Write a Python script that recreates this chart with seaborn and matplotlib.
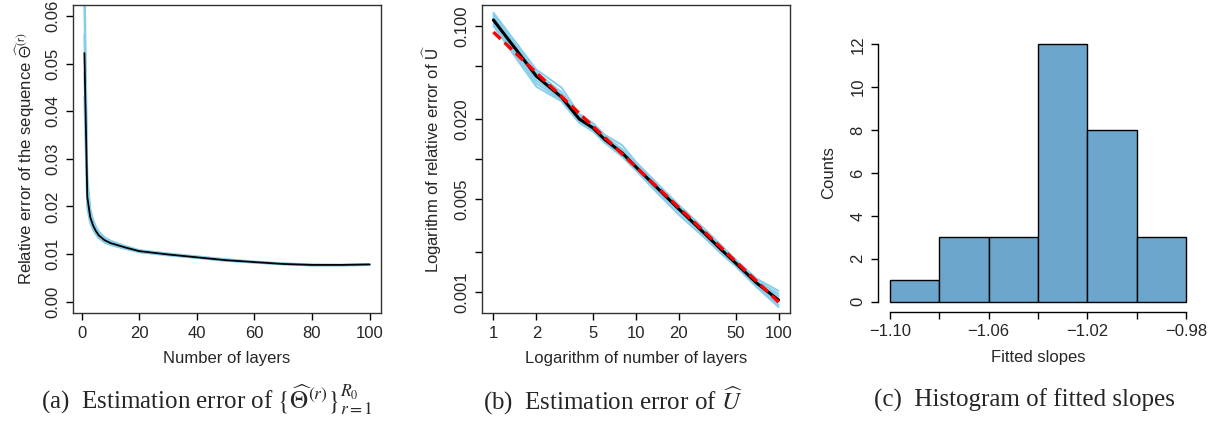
import numpy as np
import pandas as pd
import seaborn as sns
import matplotlib
matplotlib.use("Agg")
import matplotlib.pyplot as plt

# ---- panel (a): relative error of Theta-hat sequence vs number of layers
layers_a = [1, 2, 3, 4, 5, 6, 8, 10, 15, 20, 30, 40, 50, 60, 70, 80, 90, 100]
theta_mean = [0.0522, 0.0220, 0.0178, 0.0160, 0.0148, 0.0139, 0.0129, 0.0123, 0.0114, 0.0106,
              0.0099, 0.0093, 0.0087, 0.0083, 0.0079, 0.0077, 0.0077, 0.0078]
theta_runs = [
    [0.0700, 0.0262, 0.0196, 0.0172, 0.0157, 0.0147, 0.0135, 0.0128, 0.0117, 0.0108,
     0.0101, 0.0095, 0.0089, 0.0084, 0.0080, 0.0078, 0.0077, 0.0078],
    [0.0620, 0.0245, 0.0188, 0.0167, 0.0154, 0.0144, 0.0133, 0.0126, 0.0116, 0.0107,
     0.0100, 0.0094, 0.0088, 0.0083, 0.0080, 0.0077, 0.0077, 0.0078],
    [0.0560, 0.0230, 0.0182, 0.0163, 0.0151, 0.0141, 0.0131, 0.0124, 0.0115, 0.0106,
     0.0099, 0.0093, 0.0087, 0.0083, 0.0079, 0.0077, 0.0077, 0.0078],
    [0.0480, 0.0208, 0.0172, 0.0155, 0.0144, 0.0135, 0.0126, 0.0120, 0.0112, 0.0104,
     0.0098, 0.0092, 0.0086, 0.0082, 0.0079, 0.0076, 0.0076, 0.0077],
    [0.0430, 0.0196, 0.0166, 0.0151, 0.0141, 0.0133, 0.0124, 0.0119, 0.0111, 0.0104,
     0.0097, 0.0092, 0.0086, 0.0082, 0.0078, 0.0076, 0.0076, 0.0077],
]

# ---- panel (b): log relative error of U-hat vs log number of layers
layers_b = [1, 2, 3, 4, 5, 6, 8, 10, 14, 20, 30, 40, 50, 70, 100]
u_mean = [0.111, 0.042, 0.0292, 0.0200, 0.0171, 0.0141, 0.0111, 0.0087, 0.0061, 0.0042,
          0.00278, 0.00206, 0.00165, 0.00117, 0.00087]
u_runs = [
    [0.126, 0.047, 0.0345, 0.0218, 0.0186, 0.0153, 0.0127, 0.0095, 0.0066, 0.0045,
     0.00300, 0.00222, 0.00175, 0.00126, 0.00102],
    [0.121, 0.045, 0.0318, 0.0212, 0.0180, 0.0149, 0.0119, 0.0092, 0.0064, 0.0044,
     0.00292, 0.00216, 0.00171, 0.00122, 0.00097],
    [0.117, 0.044, 0.0305, 0.0208, 0.0176, 0.0146, 0.0115, 0.0090, 0.0063, 0.0043,
     0.00286, 0.00211, 0.00168, 0.00120, 0.00093],
    [0.113, 0.041, 0.0296, 0.0203, 0.0173, 0.0143, 0.0113, 0.0088, 0.0061, 0.0042,
     0.00280, 0.00207, 0.00166, 0.00118, 0.00089],
    [0.108, 0.039, 0.0286, 0.0196, 0.0168, 0.0139, 0.0109, 0.0085, 0.0059, 0.0041,
     0.00272, 0.00201, 0.00162, 0.00114, 0.00084],
    [0.104, 0.037, 0.0279, 0.0191, 0.0164, 0.0136, 0.0106, 0.0083, 0.0058, 0.0040,
     0.00266, 0.00196, 0.00159, 0.00111, 0.00080],
    [0.100, 0.035, 0.0272, 0.0187, 0.0161, 0.0133, 0.0104, 0.0082, 0.0056, 0.0038,
     0.00258, 0.00192, 0.00156, 0.00109, 0.00077],
]
fit_x = [1, 100]
fit_y = [0.090, 0.00084]

# ---- panel (c): histogram of fitted slopes
slope_edges = [-1.10, -1.08, -1.06, -1.04, -1.02, -1.00, -0.98]
slope_counts = [1, 3, 3, 12, 8, 3]

sns.set_style("white")
plt.rcParams['font.family'] = ['Liberation Sans', 'DejaVu Sans']
plt.rcParams['axes.linewidth'] = 1.0

fig = plt.figure(figsize=(12.12, 4.25), dpi=100)
W, H = 1212.0, 425.0
ax_a = fig.add_axes([73 / W, 1 - 313 / H, 308 / W, 308 / H])
ax_b = fig.add_axes([482 / W, 1 - 313 / H, 308 / W, 308 / H])
ax_c = fig.add_axes([878 / W, 1 - 312 / H, 320 / W, 278 / H])

fs = 12
light = '#87CEEB'


def r_ticks(ax):
    ax.tick_params(axis='both', which='both', direction='out', length=5, width=1,
                   color='black', labelsize=fs, pad=4, left=True, bottom=True)
    for lab in ax.get_yticklabels():
        lab.set_rotation(90)
        lab.set_va('center')


# (a)
for run in theta_runs:
    sns.lineplot(x=layers_a, y=run, color=light, lw=1.5, ax=ax_a)
sns.lineplot(x=layers_a, y=theta_mean, color='black', lw=1.3, ax=ax_a)
ax_a.set_xlim(-2.96, 103.96)
ax_a.set_ylim(-0.0024, 0.0623)
ax_a.set_xticks([0, 20, 40, 60, 80, 100])
ax_a.set_yticks([0, 0.01, 0.02, 0.03, 0.04, 0.05, 0.06])
ax_a.set_yticklabels(['0.00', '0.01', '0.02', '0.03', '0.04', '0.05', '0.06'])
r_ticks(ax_a)
ax_a.set_xlabel('Number of layers', fontsize=fs, va='center')
ax_a.xaxis.set_label_coords(0.5, -0.149)
ax_a.set_ylabel(r'Relative error of the sequence $\widehat{\Theta}^{\mathrm{(r)}}$', fontsize=fs,
                va='center', math_fontfamily='stixsans')
ax_a.yaxis.set_label_coords(-0.156, 0.5)

# (b)
for run in u_runs:
    sns.lineplot(x=layers_b, y=run, color=light, lw=1.4, ax=ax_b)
sns.lineplot(x=layers_b, y=u_mean, color='black', lw=2.2, ax=ax_b)
ax_b.plot(fit_x, fit_y, color='red', lw=2.4, dashes=(3, 1.6))
ax_b.set_xscale('log')
ax_b.set_yscale('log')
ax_b.set_xlim(10 ** -0.08, 10 ** 2.08)
ax_b.set_ylim(10 ** -3.158, 10 ** -0.842)
ax_b.set_xticks([1, 2, 5, 10, 20, 50, 100])
ax_b.set_xticklabels(['1', '2', '5', '10', '20', '50', '100'])
ax_b.set_yticks([0.001, 0.002, 0.005, 0.01, 0.02, 0.05, 0.1])
ax_b.set_yticklabels(['0.001', '', '0.005', '', '0.020', '', '0.100'])
ax_b.minorticks_off()
r_ticks(ax_b)
ax_b.set_xlabel('Logarithm of number of layers', fontsize=fs, va='center')
ax_b.xaxis.set_label_coords(0.5, -0.149)
ax_b.set_ylabel(r'Logarithm of relative error of $\widehat{\mathrm{U}}$', fontsize=fs,
                va='center', math_fontfamily='stixsans')
ax_b.yaxis.set_label_coords(-0.162, 0.5)

for ax in (ax_a, ax_b):
    for sp in ax.spines.values():
        sp.set_visible(True)
        sp.set_color('#333333')
        sp.set_linewidth(1.0)

# (c)
centers = [(slope_edges[i] + slope_edges[i + 1]) / 2 for i in range(len(slope_counts))]
hist_df = pd.DataFrame({'slope': centers, 'count': slope_counts})
sns.histplot(data=hist_df, x='slope', weights='count', bins=slope_edges, stat='count',
             color='#6CA6CD', alpha=1, edgecolor='black', linewidth=1.0, ax=ax_c)
ax_c.set_xlim(-1.1048, -0.9752)
ax_c.set_ylim(-0.48, 12.48)
ax_c.set_xticks(slope_edges)
ax_c.set_xticklabels(['\u22121.10', '', '\u22121.06', '', '\u22121.02', '', '\u22120.98'])
ax_c.set_yticks([0, 2, 4, 6, 8, 10, 12])
r_ticks(ax_c)
for side in ('top', 'right'):
    ax_c.spines[side].set_visible(False)
ax_c.spines['left'].set_bounds(0, 12)
ax_c.spines['bottom'].set_bounds(-1.10, -0.98)
ax_c.spines['left'].set_color('black')
ax_c.spines['bottom'].set_color('black')
ax_c.set_xlabel('Fitted slopes', fontsize=fs, va='center')
ax_c.xaxis.set_label_coords(0.5, -0.162)
ax_c.set_ylabel('Counts', fontsize=fs, va='center')
ax_c.yaxis.set_label_coords(-0.153, 0.5)

# sub-captions
cap = dict(fontsize=18, family=['Liberation Serif', 'DejaVu Serif'], ha='center', va='center',
           math_fontfamily='stix')
cy = 1 - 400 / H
fig.text(206.5 / W, cy, r'(a)  Estimation error of $\{\widehat{\Theta}^{(r)}\}_{r=1}^{R_0}$', **cap)
fig.text(613 / W, cy, r'(b)  Estimation error of $\widehat{U}$', **cap)
fig.text(1024 / W, cy, '(c)  Histogram of fitted slopes', **cap)

fig.savefig('out.png', dpi=100)
